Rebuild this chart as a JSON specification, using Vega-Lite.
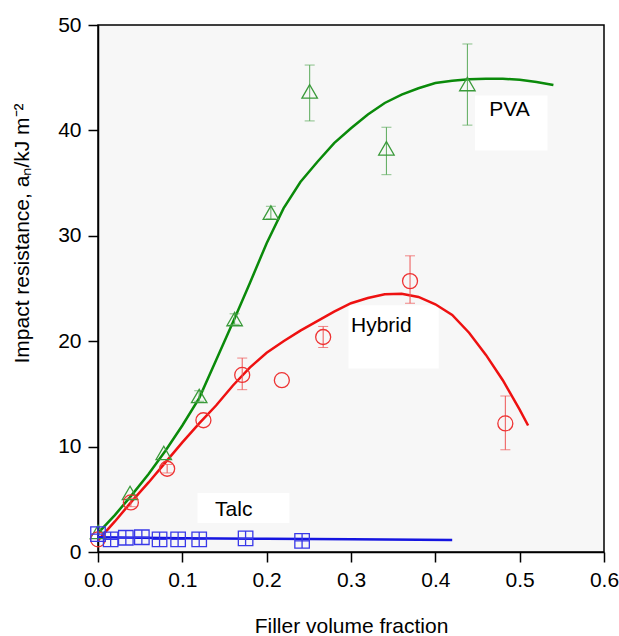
{
  "$schema": "https://vega.github.io/schema/vega-lite/v6.json",
  "autosize": "none",
  "width": 506,
  "height": 527,
  "padding": {"left": 98, "top": 25, "right": 15, "bottom": 84},
  "background": "white",
  "config": {
    "font": "Liberation Sans",
    "view": {"stroke": "black", "strokeWidth": 1.5, "fill": "#f7f7f7"},
    "axis": {"grid": false, "domainColor": "black", "domainWidth": 1.5, "tickColor": "black", "tickWidth": 1.5, "tickSize": 10, "labelFontSize": 21, "labelColor": "black", "titleFontSize": 21, "titleFontWeight": "normal", "titleColor": "black", "labelPadding": 7, "labelFlush": false, "labelOverlap": false}
  },
  "datasets": {
    "points": [
      {"series": "PVA", "x": 0.0, "y": 1.9},
      {"series": "PVA", "x": 0.038, "y": 5.6},
      {"series": "PVA", "x": 0.078, "y": 9.4},
      {"series": "PVA", "x": 0.120, "y": 14.8, "lo": 14.3, "hi": 15.3},
      {"series": "PVA", "x": 0.162, "y": 22.1, "lo": 21.6, "hi": 22.6},
      {"series": "PVA", "x": 0.205, "y": 32.2, "lo": 31.6, "hi": 32.8},
      {"series": "PVA", "x": 0.251, "y": 43.7, "lo": 40.9, "hi": 46.2},
      {"series": "PVA", "x": 0.342, "y": 38.3, "lo": 35.8, "hi": 40.3},
      {"series": "PVA", "x": 0.438, "y": 44.4, "lo": 40.5, "hi": 48.2},
      {"series": "Hybrid", "x": 0.0, "y": 1.2},
      {"series": "Hybrid", "x": 0.039, "y": 4.7, "lo": 4.3, "hi": 5.1},
      {"series": "Hybrid", "x": 0.082, "y": 7.9, "lo": 7.5, "hi": 8.3},
      {"series": "Hybrid", "x": 0.125, "y": 12.5},
      {"series": "Hybrid", "x": 0.171, "y": 16.8, "lo": 15.4, "hi": 18.4},
      {"series": "Hybrid", "x": 0.218, "y": 16.3},
      {"series": "Hybrid", "x": 0.267, "y": 20.4, "lo": 19.4, "hi": 21.4},
      {"series": "Hybrid", "x": 0.370, "y": 25.7, "lo": 23.6, "hi": 28.1},
      {"series": "Hybrid", "x": 0.483, "y": 12.2, "lo": 9.7, "hi": 14.8},
      {"series": "Talc", "x": 0.0, "y": 1.7},
      {"series": "Talc", "x": 0.015, "y": 1.2},
      {"series": "Talc", "x": 0.033, "y": 1.35},
      {"series": "Talc", "x": 0.052, "y": 1.4},
      {"series": "Talc", "x": 0.073, "y": 1.2},
      {"series": "Talc", "x": 0.095, "y": 1.2},
      {"series": "Talc", "x": 0.120, "y": 1.2},
      {"series": "Talc", "x": 0.175, "y": 1.3},
      {"series": "Talc", "x": 0.242, "y": 1.05}
    ],
    "curves": [
      {"series": "PVA", "x": 0.0, "y": 1.8},
      {"series": "PVA", "x": 0.02, "y": 3.5},
      {"series": "PVA", "x": 0.04, "y": 5.4},
      {"series": "PVA", "x": 0.06, "y": 7.4},
      {"series": "PVA", "x": 0.08, "y": 9.6},
      {"series": "PVA", "x": 0.10, "y": 12.0},
      {"series": "PVA", "x": 0.12, "y": 14.6},
      {"series": "PVA", "x": 0.14, "y": 18.2},
      {"series": "PVA", "x": 0.16, "y": 21.8},
      {"series": "PVA", "x": 0.18, "y": 25.5},
      {"series": "PVA", "x": 0.20, "y": 29.3},
      {"series": "PVA", "x": 0.22, "y": 32.6},
      {"series": "PVA", "x": 0.24, "y": 35.1},
      {"series": "PVA", "x": 0.26, "y": 37.0},
      {"series": "PVA", "x": 0.28, "y": 38.8},
      {"series": "PVA", "x": 0.30, "y": 40.2},
      {"series": "PVA", "x": 0.32, "y": 41.5},
      {"series": "PVA", "x": 0.34, "y": 42.6},
      {"series": "PVA", "x": 0.36, "y": 43.4},
      {"series": "PVA", "x": 0.38, "y": 44.0},
      {"series": "PVA", "x": 0.40, "y": 44.5},
      {"series": "PVA", "x": 0.42, "y": 44.7},
      {"series": "PVA", "x": 0.44, "y": 44.85},
      {"series": "PVA", "x": 0.46, "y": 44.9},
      {"series": "PVA", "x": 0.48, "y": 44.9},
      {"series": "PVA", "x": 0.50, "y": 44.8},
      {"series": "PVA", "x": 0.52, "y": 44.6},
      {"series": "PVA", "x": 0.54, "y": 44.3},
      {"series": "Hybrid", "x": 0.0, "y": 1.1},
      {"series": "Hybrid", "x": 0.02, "y": 2.9},
      {"series": "Hybrid", "x": 0.04, "y": 4.8},
      {"series": "Hybrid", "x": 0.06, "y": 6.6},
      {"series": "Hybrid", "x": 0.08, "y": 8.5},
      {"series": "Hybrid", "x": 0.10, "y": 10.4},
      {"series": "Hybrid", "x": 0.12, "y": 12.2},
      {"series": "Hybrid", "x": 0.14, "y": 13.9},
      {"series": "Hybrid", "x": 0.16, "y": 15.8},
      {"series": "Hybrid", "x": 0.18, "y": 17.5},
      {"series": "Hybrid", "x": 0.20, "y": 18.9},
      {"series": "Hybrid", "x": 0.22, "y": 20.0},
      {"series": "Hybrid", "x": 0.24, "y": 21.0},
      {"series": "Hybrid", "x": 0.26, "y": 21.9},
      {"series": "Hybrid", "x": 0.28, "y": 22.8},
      {"series": "Hybrid", "x": 0.30, "y": 23.6},
      {"series": "Hybrid", "x": 0.32, "y": 24.1},
      {"series": "Hybrid", "x": 0.34, "y": 24.45},
      {"series": "Hybrid", "x": 0.36, "y": 24.5},
      {"series": "Hybrid", "x": 0.38, "y": 24.2},
      {"series": "Hybrid", "x": 0.40, "y": 23.5},
      {"series": "Hybrid", "x": 0.42, "y": 22.5},
      {"series": "Hybrid", "x": 0.44, "y": 20.8},
      {"series": "Hybrid", "x": 0.46, "y": 18.7},
      {"series": "Hybrid", "x": 0.48, "y": 16.3},
      {"series": "Hybrid", "x": 0.50, "y": 13.5},
      {"series": "Hybrid", "x": 0.51, "y": 12.0},
      {"series": "Talc", "x": 0.0, "y": 1.4},
      {"series": "Talc", "x": 0.1, "y": 1.3},
      {"series": "Talc", "x": 0.2, "y": 1.25},
      {"series": "Talc", "x": 0.3, "y": 1.2},
      {"series": "Talc", "x": 0.42, "y": 1.15}
    ],
    "labels": [
      {"text": "PVA", "x": 0.488, "y": 41.9, "x1": 0.447, "x2": 0.533, "y1": 38.1, "y2": 43.3},
      {"text": "Hybrid", "x": 0.336, "y": 21.4, "x1": 0.297, "x2": 0.404, "y1": 17.4, "y2": 23.4},
      {"text": "Talc", "x": 0.161, "y": 4.0, "x1": 0.118, "x2": 0.227, "y1": 2.75, "y2": 5.6}
    ]
  },
  "resolve": {"scale": {"color": "independent"}},
  "layer": [
    {
      "data": {"name": "labels"},
      "mark": {"type": "rect", "fill": "white"},
      "encoding": {
        "x": {"field": "x1", "type": "quantitative", "scale": {"domain": [0, 0.6]}},
        "x2": {"field": "x2"},
        "y": {"field": "y1", "type": "quantitative", "scale": {"domain": [0, 50]}},
        "y2": {"field": "y2"}
      }
    },
    {
      "data": {"name": "curves"},
      "mark": {"type": "line", "strokeWidth": 2.5},
      "encoding": {
        "x": {"field": "x", "type": "quantitative", "scale": {"domain": [0, 0.6]},
              "axis": {"values": [0, 0.1, 0.2, 0.3, 0.4, 0.5, 0.6], "format": ".1f", "title": "Filler volume fraction", "titlePadding": 25}},
        "y": {"field": "y", "type": "quantitative", "scale": {"domain": [0, 50]},
              "axis": {"values": [0, 10, 20, 30, 40, 50], "title": "Impact resistance, aₙ/kJ m⁻²", "titleFontSize": 21, "titleX": -76, "titleY": 208, "titleAlign": "center", "titleBaseline": "middle", "titleAngle": -90}},
        "color": {"field": "series", "type": "nominal", "scale": {"domain": ["PVA", "Hybrid", "Talc"], "range": ["#0a8a0a", "#ee1111", "#1515e0"]}, "legend": null},
        "detail": {"field": "series"}
      }
    },
    {
      "data": {"name": "points"},
      "transform": [{"filter": "isValid(datum.lo)"}],
      "mark": {"type": "rule", "strokeWidth": 1},
      "encoding": {
        "x": {"field": "x", "type": "quantitative"},
        "y": {"field": "lo", "type": "quantitative"},
        "y2": {"field": "hi"},
        "color": {"field": "series", "type": "nominal", "scale": {"domain": ["PVA", "Hybrid", "Talc"], "range": ["#5aaa5a", "#ee5555", "#5555ee"]}, "legend": null}
      }
    },
    {
      "data": {"name": "points"},
      "transform": [{"filter": "isValid(datum.lo)"}],
      "mark": {"type": "tick", "orient": "horizontal", "size": 10, "thickness": 1},
      "encoding": {
        "x": {"field": "x", "type": "quantitative"},
        "y": {"field": "lo", "type": "quantitative"},
        "color": {"field": "series", "type": "nominal", "scale": {"domain": ["PVA", "Hybrid", "Talc"], "range": ["#5aaa5a", "#ee5555", "#5555ee"]}, "legend": null}
      }
    },
    {
      "data": {"name": "points"},
      "transform": [{"filter": "isValid(datum.hi)"}],
      "mark": {"type": "tick", "orient": "horizontal", "size": 10, "thickness": 1},
      "encoding": {
        "x": {"field": "x", "type": "quantitative"},
        "y": {"field": "hi", "type": "quantitative"},
        "color": {"field": "series", "type": "nominal", "scale": {"domain": ["PVA", "Hybrid", "Talc"], "range": ["#5aaa5a", "#ee5555", "#5555ee"]}, "legend": null}
      }
    },
    {
      "data": {"name": "points"},
      "mark": {"type": "point", "filled": false, "strokeWidth": 1.3, "opacity": 1},
      "encoding": {
        "x": {"field": "x", "type": "quantitative"},
        "y": {"field": "y", "type": "quantitative"},
        "shape": {"field": "series", "type": "nominal", "scale": {"domain": ["PVA", "Hybrid", "Talc"], "range": ["triangle-up", "circle", "M-1,-1H1V1H-1Z M-1,0H1 M0,-1V1"]}, "legend": null},
        "size": {"field": "series", "type": "nominal", "scale": {"domain": ["PVA", "Hybrid", "Talc"], "range": [240, 210, 150]}, "legend": null},
        "color": {"field": "series", "type": "nominal", "scale": {"domain": ["PVA", "Hybrid", "Talc"], "range": ["#3a9a3a", "#ee3333", "#3838e8"]}, "legend": null}
      }
    },
    {
      "data": {"name": "labels"},
      "mark": {"type": "text", "fontSize": 21, "color": "black", "align": "center", "baseline": "middle"},
      "encoding": {
        "x": {"field": "x", "type": "quantitative"},
        "y": {"field": "y", "type": "quantitative"},
        "text": {"field": "text"}
      }
    }
  ]
}
